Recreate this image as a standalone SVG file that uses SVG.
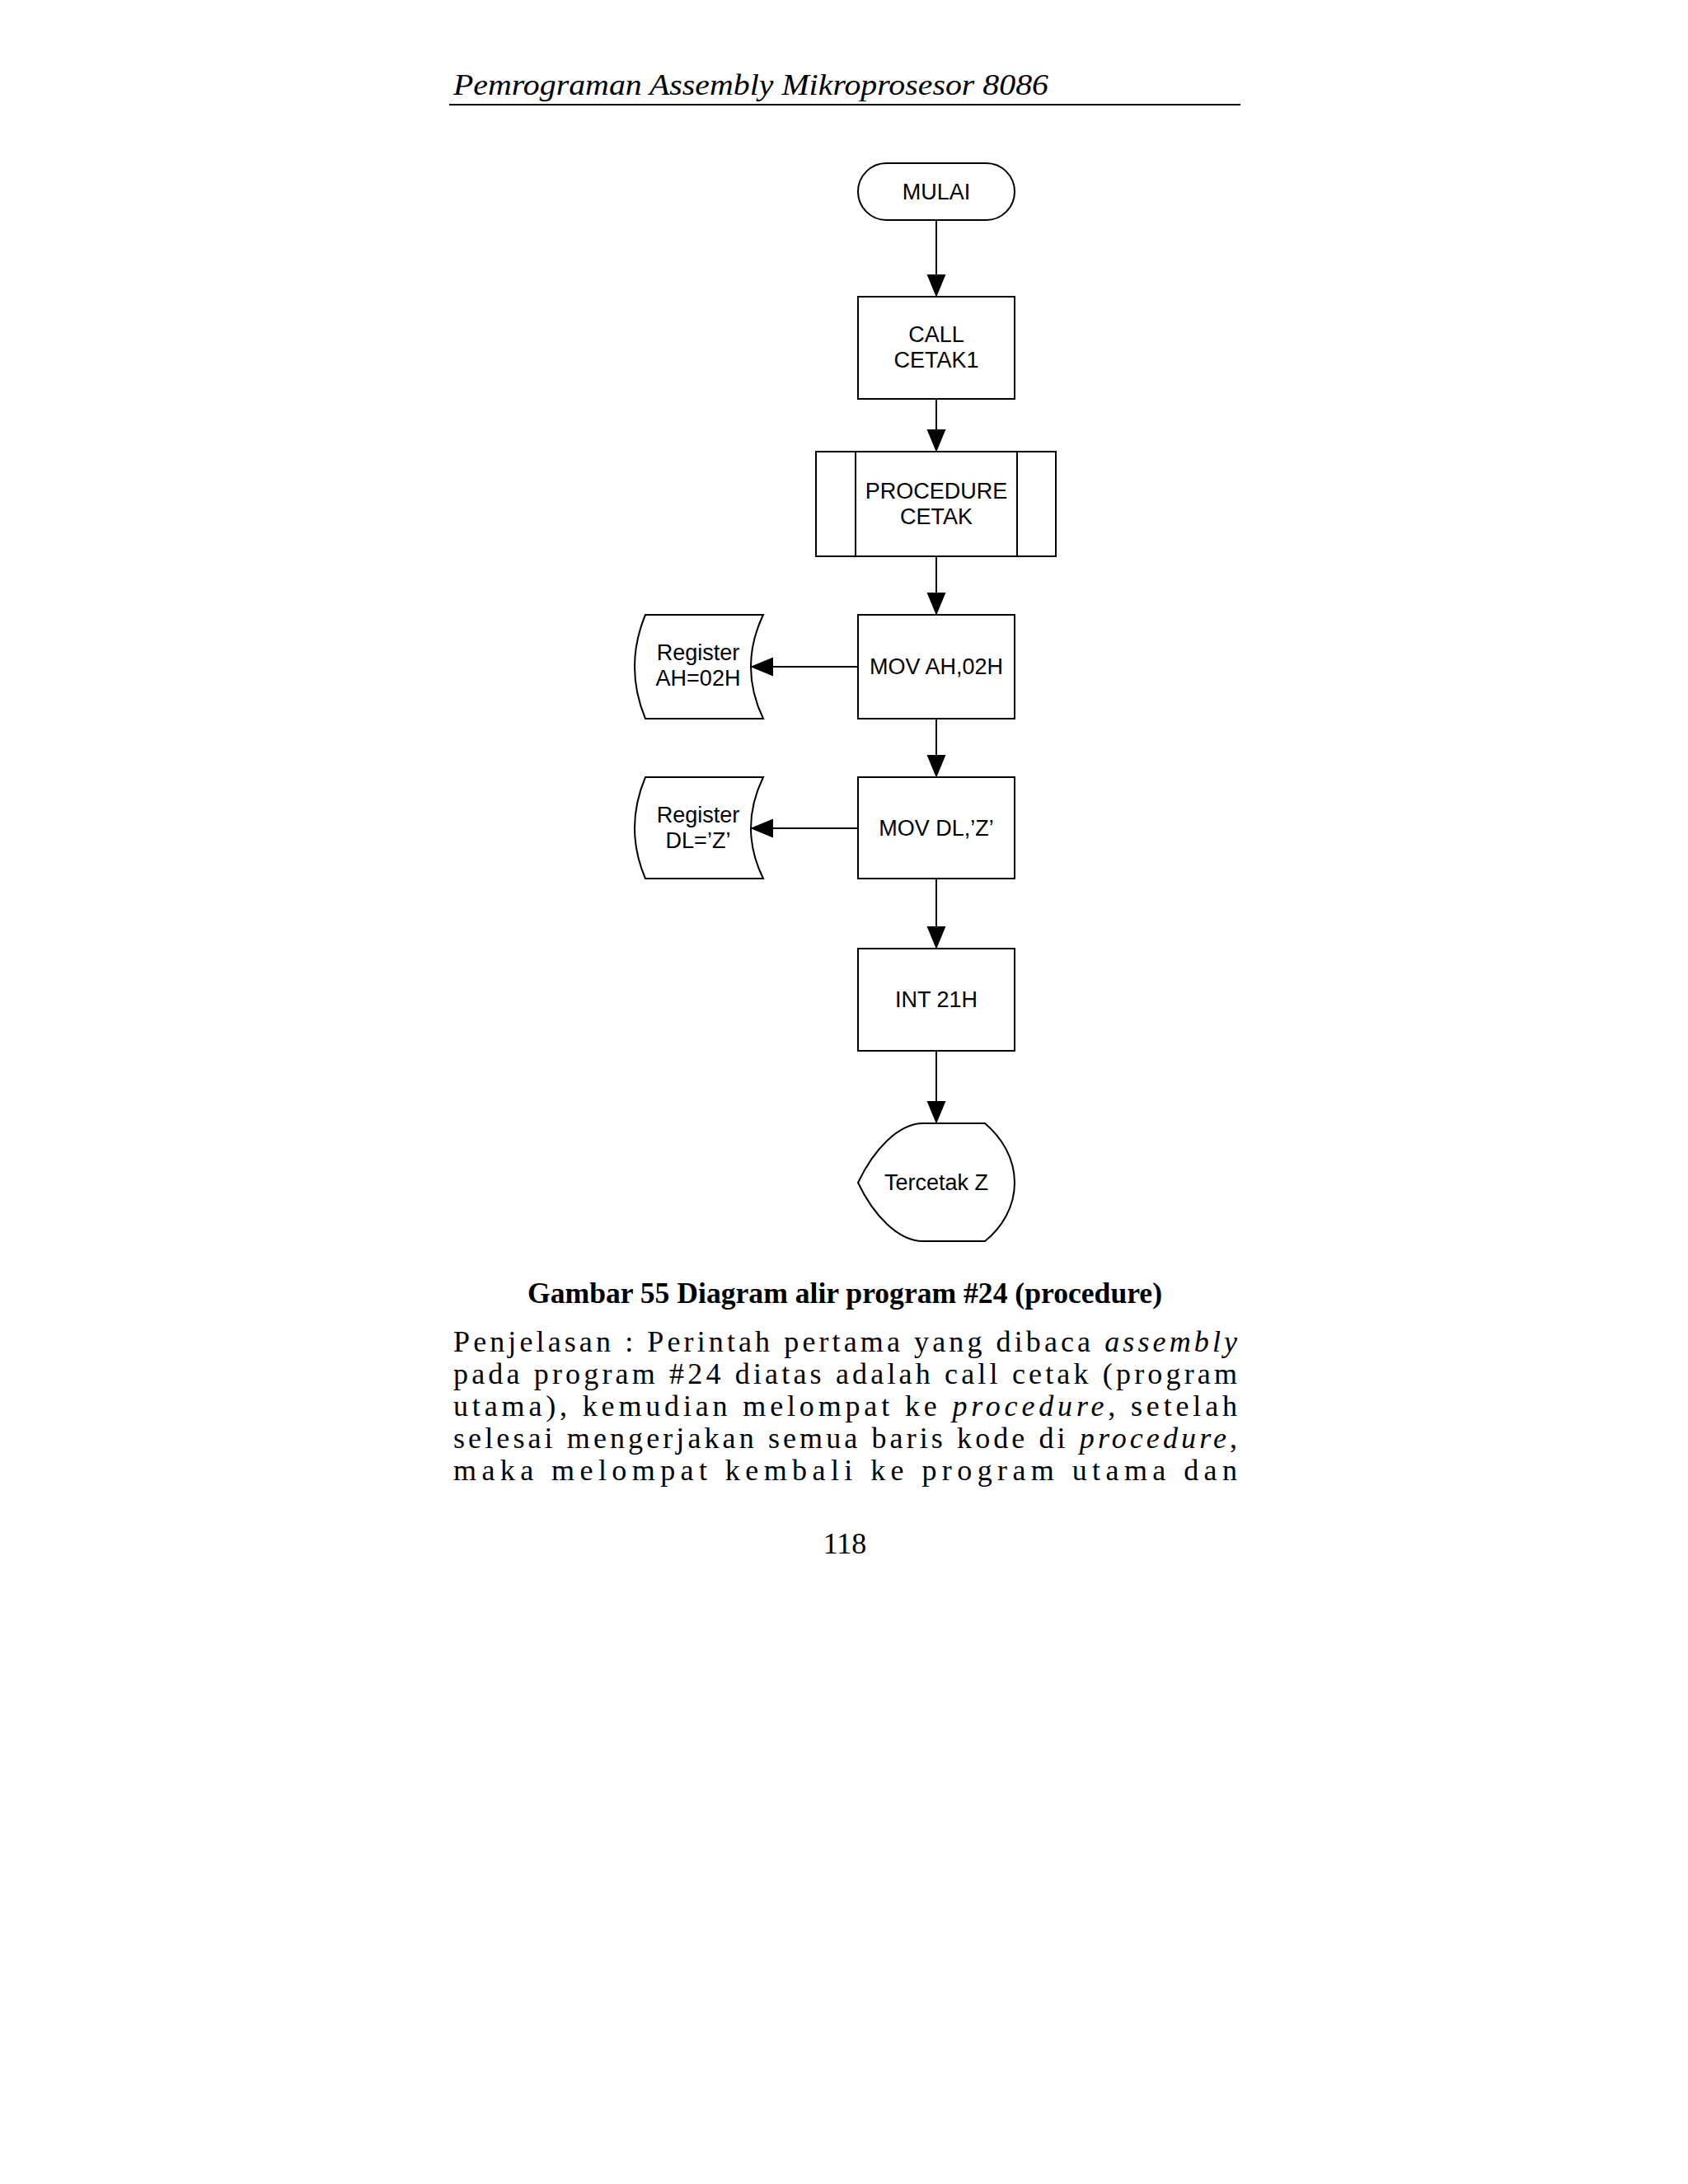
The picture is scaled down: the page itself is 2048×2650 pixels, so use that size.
<svg xmlns="http://www.w3.org/2000/svg" width="2048" height="2650" viewBox="0 0 2048 2650">
<style>
.s{fill:#fff;stroke:#000;stroke-width:2}
.t{font-family:"Liberation Sans",Arial,sans-serif;font-size:27px;text-anchor:middle;fill:#000}
.c{stroke:#000;stroke-width:2;fill:none;marker-end:url(#a)}
.p{font-family:"Liberation Serif","DejaVu Serif",serif;font-size:36px;fill:#000}
</style>
<defs><marker id="a" markerUnits="userSpaceOnUse" markerWidth="28" markerHeight="34" refX="33" refY="14" viewBox="0 0 34 28" orient="auto"><path d="M0,0 L34,14 L0,28 Z" fill="#000"/></marker></defs>
<rect width="2048" height="2650" fill="#fff"/>
<text x="550" y="115" class="p" font-style="italic" textLength="722" lengthAdjust="spacingAndGlyphs">Pemrograman Assembly Mikroprosesor 8086</text>
<line x1="545" y1="127" x2="1505" y2="127" stroke="#000" stroke-width="2"/>
<g id="connectors">
<line class="c" x1="1136" y1="267" x2="1136" y2="360"/>
<line class="c" x1="1136" y1="484" x2="1136" y2="548"/>
<line class="c" x1="1136" y1="675" x2="1136" y2="746"/>
<line class="c" x1="1136" y1="872" x2="1136" y2="943"/>
<line class="c" x1="1136" y1="1066" x2="1136" y2="1151"/>
<line class="c" x1="1136" y1="1275" x2="1136" y2="1363"/>
<line class="c" x1="1041" y1="809" x2="911" y2="809"/>
<line class="c" x1="1041" y1="1005" x2="911" y2="1005"/>
</g>
<g id="mulai"><rect class="s" x="1041" y="198" width="190" height="69" rx="34.5"/><text class="t" x="1136" y="242">MULAI</text></g>
<g id="call"><rect class="s" x="1041" y="360" width="190" height="124"/><text class="t" x="1136" y="415">CALL</text><text class="t" x="1136" y="446">CETAK1</text></g>
<g id="proc"><rect class="s" x="990" y="548" width="291" height="127"/><line x1="1038" y1="548" x2="1038" y2="675" stroke="#000" stroke-width="2"/><line x1="1234" y1="548" x2="1234" y2="675" stroke="#000" stroke-width="2"/><text class="t" x="1136" y="605">PROCEDURE</text><text class="t" x="1136" y="636">CETAK</text></g>
<g id="movah"><rect class="s" x="1041" y="746" width="190" height="126"/><text class="t" x="1136" y="818">MOV AH,02H</text></g>
<g id="regah"><path class="s" d="M783,746 H926 Q896,809 926,872 H783 Q757,809 783,746 Z"/><text class="t" x="847" y="801">Register</text><text class="t" x="847" y="832">AH=02H</text></g>
<g id="movdl"><rect class="s" x="1041" y="943" width="190" height="123"/><text class="t" x="1136" y="1014">MOV DL,’Z’</text></g>
<g id="regdl"><path class="s" d="M783,943 H926 Q896,1005 926,1066 H783 Q757,1005 783,943 Z"/><text class="t" x="847" y="998">Register</text><text class="t" x="847" y="1029">DL=’Z’</text></g>
<g id="int"><rect class="s" x="1041" y="1151" width="190" height="124"/><text class="t" x="1136" y="1222">INT 21H</text></g>
<g id="tercetak"><path class="s" d="M1041,1435 C1060,1395 1090,1363 1120,1363 H1195 C1215,1380 1231,1405 1231,1435 C1231,1465 1215,1490 1195,1506 H1120 C1090,1506 1060,1475 1041,1435 Z"/><text class="t" x="1136" y="1444">Tercetak Z</text></g>
<text x="1025" y="1581" class="p" font-size="31" font-weight="bold" text-anchor="middle" textLength="770" lengthAdjust="spacingAndGlyphs">Gambar 55 Diagram alir program #24 (procedure)</text>
<text x="550" y="1640" class="p" textLength="951" lengthAdjust="spacing">Penjelasan : Perintah pertama yang dibaca <tspan font-style="italic">assembly</tspan></text>
<text x="550" y="1679" class="p" textLength="951" lengthAdjust="spacing">pada program #24 diatas adalah call cetak (program</text>
<text x="550" y="1718" class="p" textLength="951" lengthAdjust="spacing">utama), kemudian melompat ke <tspan font-style="italic">procedure</tspan>, setelah</text>
<text x="550" y="1757" class="p" textLength="951" lengthAdjust="spacing">selesai mengerjakan semua baris kode di <tspan font-style="italic">procedure</tspan>,</text>
<text x="550" y="1796" class="p" textLength="951" lengthAdjust="spacing">maka melompat kembali ke program utama dan</text>
<text x="1025" y="1885" class="p" font-size="34" text-anchor="middle">118</text>
</svg>
